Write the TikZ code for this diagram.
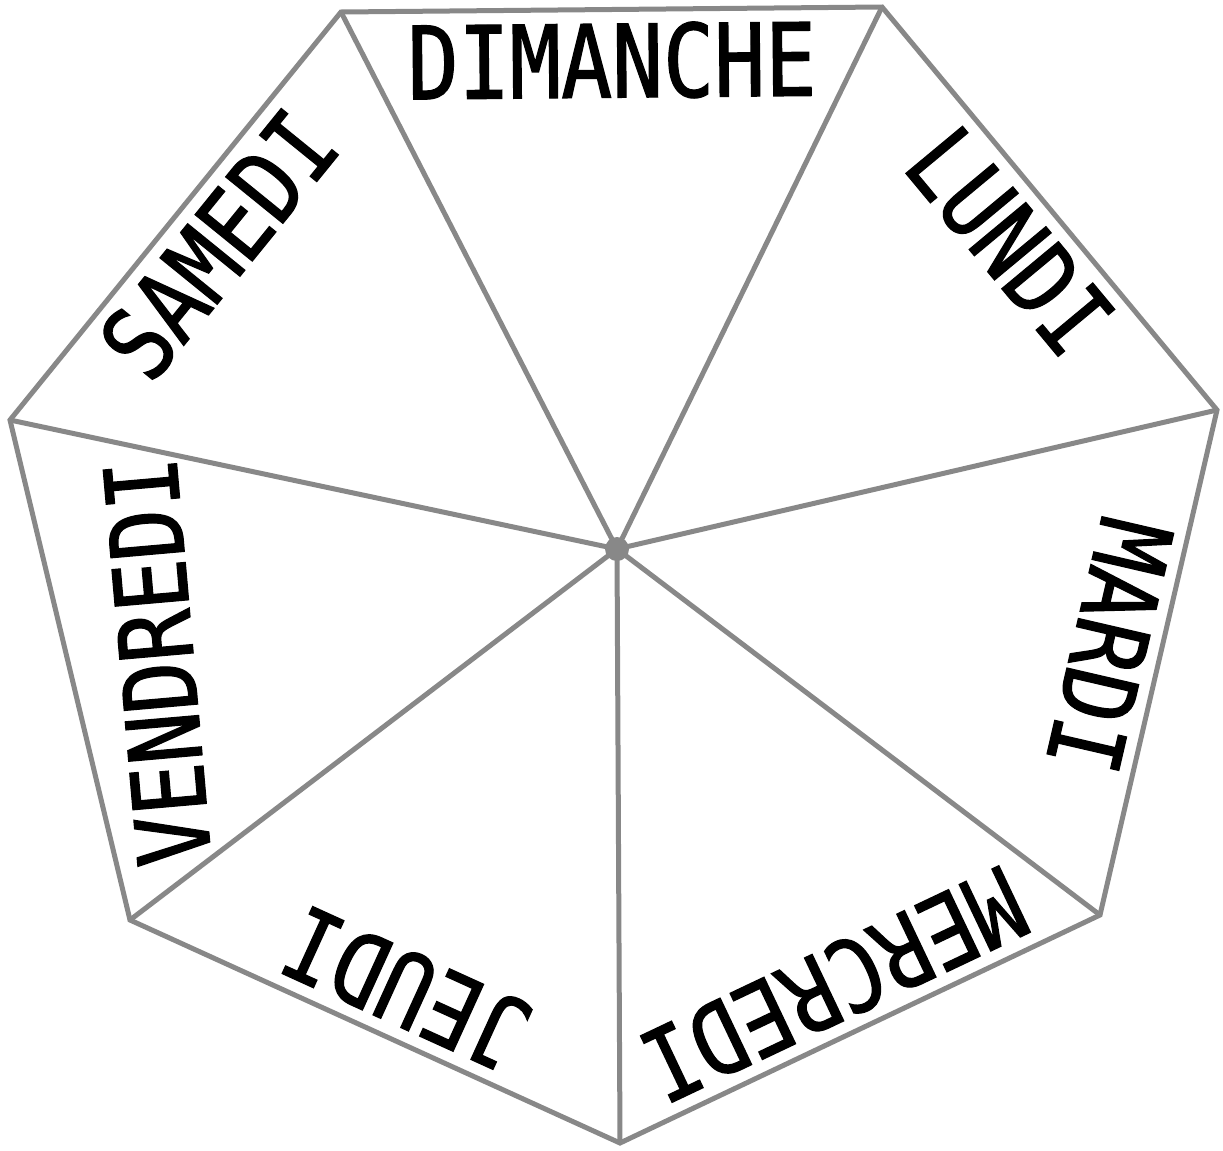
\documentclass[tikz,border=0pt]{standalone}
\usepackage{fontspec}
\newfontfamily\dayfont{DejaVu Sans Mono}[FakeStretch=0.84,FakeBold=1.2]
\usetikzlibrary{calc}
\definecolor{edgegray}{RGB}{136,136,136}
\begin{document}
\begin{tikzpicture}[x=0.02cm,y=-0.02cm,
  edge/.style={draw=edgegray, line width=0.1cm, line join=miter},
  day/.style={font=\dayfont\fontsize{57.5}{60}\selectfont, anchor=base, inner sep=0pt}]
\useasboundingbox (0,0) rectangle (1223,1150);
\coordinate (A) at (341,12);
\coordinate (B) at (882,7);
\coordinate (C) at (1217,410);
\coordinate (D) at (1100,915);
\coordinate (E) at (620,1143);
\coordinate (F) at (130,920);
\coordinate (G) at (10,420);
\coordinate (O) at (617,549);
\draw[edge] (A)--(B)--(C)--(D)--(E)--(F)--(G)--cycle;
\foreach \v in {A,B,C,D,E,F,G} \draw[edge] (O) -- (\v);
\fill[edgegray] (O) circle (0.24cm);
\coordinate (mAB) at ($(A)!0.5!(B)$);
\coordinate (mBC) at ($(B)!0.5!(C)$);
\coordinate (mCD) at ($(C)!0.49!(D)$);
\coordinate (mDE) at ($(D)!0.51!(E)$);
\coordinate (mEF) at ($(E)!0.48!(F)$);
\coordinate (mGA) at ($(G)!0.51!(A)$);
\node[day, rotate=0.53] (dim) at ($(mAB)!1.76cm!-90:(B)$) {DIMANCHE};
\node[day, rotate=-50.26] (lun) at ($(mBC)!1.76cm!-90:(C)$) {LUNDI};
\node[day, rotate=-103.04] (mar) at ($(mCD)!1.76cm!-90:(D)$) {MARDI};
\node[day, rotate=-154.6] (mer) at ($(mDE)!1.76cm!-90:(E)$) {MERCREDI};
\node[day, rotate=155.53] (jeu) at ($(mEF)!1.76cm!-90:(F)$) {JEUDI};
\node[day, rotate=95, anchor=center] (ven) at (157,662) {VENDREDI};
\node[day, rotate=50.94] (sam) at ($(mGA)!1.76cm!-90:(A)$) {SAMEDI};
\end{tikzpicture}
\end{document}
